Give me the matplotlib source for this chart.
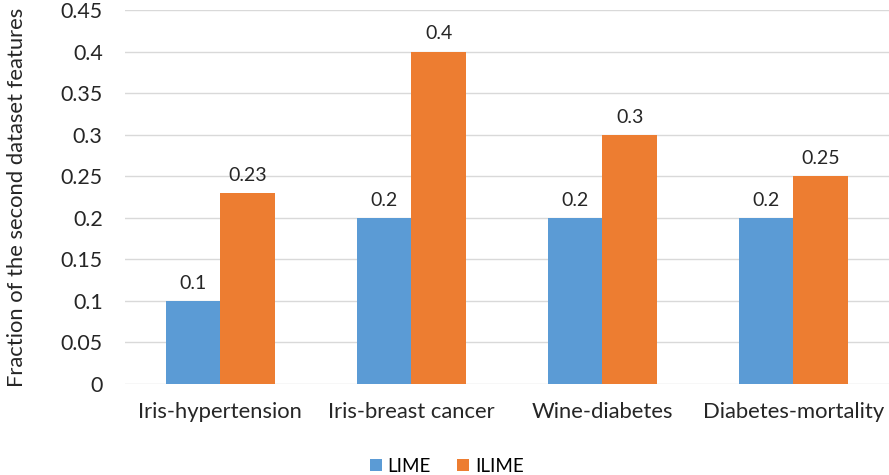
import numpy as np
import matplotlib.pyplot as plt

plt.rcParams['font.family'] = ['Lato', 'DejaVu Sans']

pairs = ['Iris-hypertension', 'Iris-breast cancer', 'Wine-diabetes', 'Diabetes-mortality']
lime = [0.1, 0.2, 0.2, 0.2]
ilime = [0.23, 0.4, 0.3, 0.25]

fig = plt.figure(figsize=(8.89, 4.75), dpi=100)
ax = fig.add_axes([0.1405, 0.1916, 0.8595, 0.7874])

x = np.arange(len(pairs))
w = 0.287
b1 = ax.bar(x - w / 2, lime, w, color='#5B9BD5', label='LIME', zorder=3)
b2 = ax.bar(x + w / 2, ilime, w, color='#ED7D31', label='ILIME', zorder=3)

for bars, vals in [(b1, lime), (b2, ilime)]:
    for r, v in zip(bars, vals):
        ax.text(r.get_x() + r.get_width() / 2, v + 0.011, f'{v:g}',
                ha='center', va='bottom', fontsize=14, color='#262626')

ticks = np.arange(0, 0.451, 0.05).round(2)
ax.set_xlim(-0.5, len(pairs) - 0.5)
ax.set_ylim(0, 0.45)
ax.set_yticks(ticks)
ax.set_yticklabels([f'{t:g}' for t in ticks])
ax.set_xticks(x)
ax.set_xticklabels(pairs, fontsize=15.8, color='#262626')
ax.tick_params(axis='y', labelsize=15.4, colors='#262626', length=0, pad=16)
ax.tick_params(axis='x', length=0, pad=13)
ax.grid(axis='y', color='#D9D9D9', linewidth=1, zorder=0)
for s in ax.spines.values():
    s.set_visible(False)

ax.set_ylabel('Fraction of the second dataset features', fontsize=15.8,
              color='#262626', labelpad=24)

fig.legend(loc='lower center', bbox_to_anchor=(0.5025, -0.035), ncol=2, frameon=False,
           fontsize=13.5, handlelength=0.65, handleheight=0.65, columnspacing=1.4,
           handletextpad=0.3)

fig.savefig('out.png', dpi=100)
